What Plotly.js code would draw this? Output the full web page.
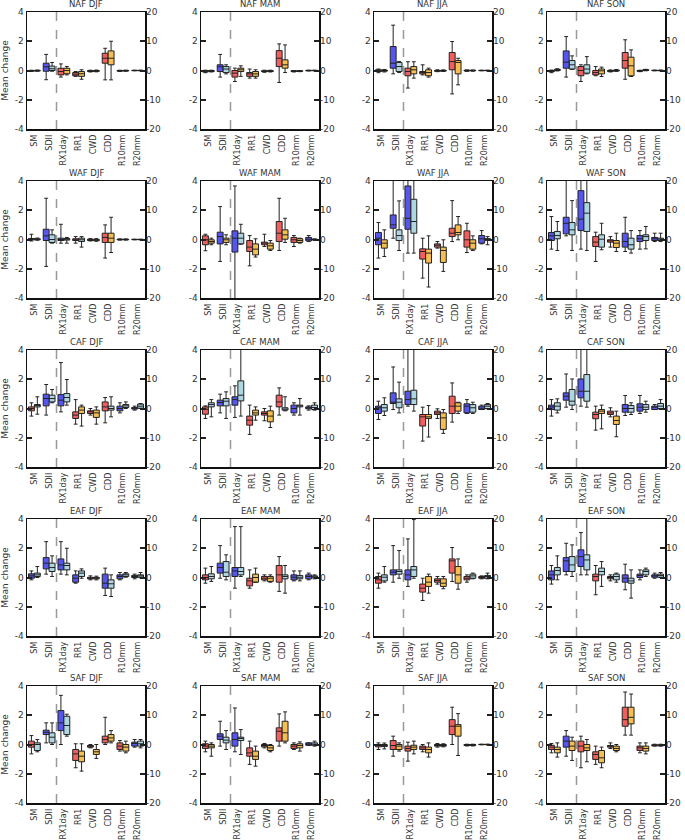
<!DOCTYPE html>
<html>
<head>
<meta charset="utf-8">
<script src="https://cdn.plot.ly/plotly-3.0.1.min.js"></script>
<style>html,body{margin:0;padding:0;background:#fff;}#chart{width:685px;height:840px;}</style>
</head>
<body>
<div id="chart"></div>
<script>
// Categories and panel names
const categories = ['SM','SDII','RX1day','RR1','CWD','CDD','R10mm','R20mm'];
const regions = ['NAF','WAF','CAF','EAF','SAF'];
const seasons = ['DJF','MAM','JJA','SON'];
const leftTicks = [-4,-2,0,2,4];
const rightTicks = [-20,-10,0,10,20];

// Each panel: 16 boxes (2 per category): [lowerWhisker, q1, median, q3, upperWhisker, colour]
// SM and SDII on left axis (-4..4), the rest on right axis (-20..20)
const NAF_DJF = [
[-0.06,-0.04,-0.02,0,0.02,'r'],[-0.05,-0.03,-0.01,0.01,0.03,'o'],
[-0.63,-0.05,0.25,0.5,1.1,'b'],[-0.05,0,0.12,0.3,0.55,'lb'],
[-2.25,-1.5,-0.35,0.75,2.25,'r'],[-1.5,-1.1,0,0.75,1.35,'o'],
[-2.0,-1.8,-1.25,-0.7,-0.35,'r'],[-3.0,-2.0,-1.1,-0.35,0.25,'o'],
[-0.5,-0.35,-0.2,-0.05,0.1,'r'],[-0.45,-0.3,-0.15,0,0.15,'o'],
[-3.2,2.5,4.2,5.9,7.6,'r'],[-3.2,1.95,4.2,6.7,10,'o'],
[-0.3,-0.2,-0.1,0,0.1,'r'],[-0.25,-0.15,-0.05,0.05,0.1,'o'],
[-0.1,-0.05,0,0.05,0.1,'r'],[-0.1,-0.05,0,0.05,0.1,'o']];
const NAF_MAM = [
[-0.15,-0.1,-0.05,0,0.02,'r'],[-0.1,-0.07,-0.03,0,0.02,'o'],
[-0.45,-0.07,0.25,0.39,1.1,'b'],[-0.23,-0.14,0.1,0.27,0.39,'lb'],
[-3.75,-2.25,-0.9,0,0.8,'r'],[-2.0,-0.35,0.25,0.8,1.6,'o'],
[-2.6,-2.0,-1.15,-0.7,0.5,'r'],[-2.6,-2.0,-1.15,-0.35,0.25,'o'],
[-0.6,-0.4,-0.25,-0.1,0.1,'r'],[-0.5,-0.35,-0.2,-0.05,0.1,'o'],
[-4.1,1.35,4.2,6.8,9.1,'r'],[-0.7,0.8,1.95,3.65,8.75,'o'],
[-0.5,-0.35,-0.25,-0.1,0,'r'],[-0.4,-0.3,-0.2,-0.1,0,'o'],
[-0.15,-0.1,0,0.05,0.1,'r'],[-0.1,-0.05,0,0.05,0.1,'o']];
const NAF_JJA = [
[-0.15,-0.07,-0.02,0.05,0.1,'b'],[-0.1,-0.05,0,0.03,0.07,'o'],
[-0.23,0.16,0.5,1.64,3.1,'b'],[-0.14,-0.07,0.27,0.55,0.62,'lb'],
[-6,-1.8,-0.35,0.8,3.0,'r'],[-2.6,-1.15,0.25,1.35,3.0,'o'],
[-1.5,-1.15,-0.7,-0.35,1.95,'r'],[-2.25,-1.8,-0.7,0.25,0.8,'o'],
[-0.4,-0.25,-0.1,0,0.25,'r'],[-0.35,-0.2,-0.05,0.05,0.2,'o'],
[-8,0.25,3.05,6.15,9.9,'r'],[-4.9,-1.15,2.75,3.4,4.2,'o'],
[-0.3,-0.15,0,0.1,0.2,'b'],[-0.25,-0.1,0,0.1,0.15,'lb'],
[-0.1,-0.05,0,0.05,0.1,'r'],[-0.1,-0.05,0,0.05,0.1,'o']];
const NAF_SON = [
[-0.15,-0.08,-0.05,0,0.03,'r'],[-0.03,0,0.05,0.08,0.12,'lb'],
[-0.45,0.16,0.57,1.34,2.32,'b'],[0.08,0.1,0.39,0.68,1.0,'lb'],
[-3.75,-1.8,0,1.35,1.95,'r'],[-1.15,-0.9,0.5,1.95,4.75,'lb'],
[-1.8,-1.5,-0.7,0,1.35,'r'],[-2.05,-1.15,-0.1,0.5,1.15,'o'],
[-0.5,-0.3,-0.15,0,0.2,'r'],[-0.3,-0.15,0,0.15,0.35,'o'],
[-3,0.8,3.4,6.15,10.5,'r'],[-2.05,-1.8,1.6,4.55,7.05,'o'],
[-0.4,-0.25,-0.15,0,0.1,'r'],[-0.1,0,0.15,0.3,0.4,'lb'],
[-0.1,-0.05,0,0.05,0.15,'r'],[-0.1,-0.05,0,0.05,0.15,'o']];
const WAF_DJF = [
[-0.1,-0.03,0.02,0.07,0.36,'b'],[-0.05,-0.02,0.02,0.05,0.1,'lb'],
[-1.84,-0.07,0.25,0.7,2.82,'b'],[-0.25,-0.2,0,0.32,0.66,'lb'],
[-1.25,-0.35,0,0.45,5.2,'b'],[-1.25,-0.2,0.1,0.35,0.7,'lb'],
[-1.25,-0.35,-0.1,0.25,1.0,'r'],[-2.6,-0.7,-0.1,0.45,1.0,'lb'],
[-0.5,-0.35,-0.1,0.1,0.3,'r'],[-0.6,-0.4,-0.15,0.05,0.3,'o'],
[-6.35,-1.0,0.7,2.15,5.0,'r'],[-4.45,-1.0,0.45,2.15,7.6,'o'],
[-0.2,-0.1,0,0.1,0.2,'b'],[-0.2,-0.1,0,0.1,0.2,'lb'],
[-0.1,-0.05,0,0.05,0.1,'b'],[-0.1,-0.05,0,0.05,0.1,'lb']];
const WAF_MAM = [
[-0.77,-0.36,-0.02,0.25,0.36,'r'],[-0.36,-0.25,-0.14,-0.02,0.09,'o'],
[-1.5,-0.3,0.2,0.5,2.25,'b'],[-0.36,-0.2,-0.02,0.09,0.32,'o'],
[-25,-4.3,0.45,2.95,18.3,'b'],[-1.6,-1.5,0.45,2.15,5.2,'lb'],
[-9,-4.1,-2.6,-0.35,1.35,'r'],[-6,-5.25,-3.3,-1.5,0.25,'o'],
[-2.4,-1.8,-1.25,-0.9,1.8,'r'],[-3.75,-3.3,-2.15,-1.25,-0.35,'o'],
[-3.75,-0.7,2.15,6.15,14.1,'r'],[-1.0,0.1,1.6,3.3,7.25,'o'],
[-2.4,-1.0,-0.1,0.7,1.35,'r'],[-1.25,-1.0,-0.35,0.25,0.45,'o'],
[-0.7,-0.45,0.1,0.7,1.35,'b'],[-0.3,-0.1,0,0.1,0.2,'lb']];
const WAF_JJA = [
[-1.27,-0.36,0.09,0.48,1.16,'b'],[-1.16,-0.59,-0.25,-0.02,0.66,'o'],
[0.09,0.77,1.0,1.68,4.6,'b'],[-0.75,-0.07,0.27,0.66,2.64,'lb'],
[-4.65,3.5,7.25,18.3,25,'b'],[-4.65,2.15,6.15,13.75,25,'lb'],
[-13.2,-6.7,-4.1,-3.2,0.45,'r'],[-16.25,-8.05,-4.65,-3.3,1.25,'o'],
[-2.95,-2.6,-1.95,-1.5,-0.7,'r'],[-10.9,-7.85,-3.75,-2.6,-0.1,'o'],
[-0.7,1.0,2.15,3.85,13.3,'r'],[-0.1,1.6,2.4,5,7.85,'o'],
[-4.45,-2.6,-0.1,2.95,5.55,'r'],[-3.75,-3.3,-1.25,-0.1,1.25,'o'],
[-1.5,-1.25,0.25,1.35,3.05,'b'],[-1.8,-0.3,0,0.3,1.0,'lb']];
const WAF_SON = [
[-0.66,-0.07,0.25,0.48,1.57,'b'],[-0.75,0.05,0.27,0.55,1.23,'lb'],
[0.25,0.39,1.11,1.52,4.5,'b'],[-0.75,0.32,0.66,1.16,2.66,'lb'],
[-3.3,3.05,6.95,16.7,25,'b'],[-3.75,2.75,9,12.6,25,'lb'],
[-7.5,-2.4,-0.9,1.0,2.5,'r'],[-3.5,-2.6,0.1,1.6,5.55,'lb'],
[-2.6,-0.9,-0.45,-0.1,1.0,'r'],[-4.1,-2.75,-1.25,-0.35,2.15,'o'],
[-4.1,-2.6,-0.7,2.15,7.6,'b'],[-4.65,-3.3,-1.8,0.45,3.05,'lb'],
[-3.3,-0.7,0.25,1.35,3.05,'b'],[-3.2,-0.35,1.0,1.6,4.45,'lb'],
[-0.7,-0.35,0.25,0.7,2.15,'b'],[-0.7,-0.35,0.1,0.45,2.15,'lb']];
const CAF_DJF = [
[-0.52,-0.16,0,0.11,0.39,'r'],[-0.39,0.11,0.2,0.27,0.8,'lb'],
[-0.45,0.18,0.68,0.98,1.64,'b'],[0.39,0.45,0.68,0.91,1.3,'lb'],
[-1.15,0.9,2.85,4.75,15.7,'b'],[1.15,2.25,3.75,5.1,9.9,'lb'],
[-5.35,-3.4,-2.25,-1.15,3.05,'r'],[-6,-1.7,-0.55,0.55,1.15,'o'],
[-2.25,-1.7,-1.15,-0.8,0,'r'],[-5.35,-3.05,-1.5,-0.55,0.55,'o'],
[-4.9,-0.8,0.55,2.25,3.75,'r'],[-2.85,-0.55,0,0.8,4.0,'lb'],
[-1.5,-0.8,0,0.8,1.95,'b'],[0,0.35,0.9,1.35,2.25,'lb'],
[-0.55,-0.2,0.1,0.3,0.8,'b'],[0,0.1,0.8,1.5,1.7,'lb']];
const CAF_MAM = [
[-0.68,-0.39,-0.05,0.11,0.18,'r'],[-0.57,0.11,0.27,0.39,0.61,'lb'],
[-0.3,0.18,0.41,0.57,0.98,'b'],[-0.68,0.18,0.5,0.68,1.14,'lb'],
[-3.05,1.15,3.05,4.0,7.75,'b'],[-2.6,2.6,4.55,9.45,25,'lb'],
[-8.85,-5.7,-4.0,-2.6,1.15,'r'],[-4.0,-2.25,-1.5,-0.55,0.55,'o'],
[-4.2,-2.25,-1.7,-1.15,0,'r'],[-6.5,-4.55,-2.6,-0.8,0.8,'o'],
[-2.25,0.55,2.25,4.55,7.05,'r'],[-0.8,-0.55,-0.2,0.25,4.0,'lb'],
[-2.25,-1.5,0,1.15,1.95,'b'],[-2.25,0.55,0.9,1.15,3.4,'lb'],
[-0.55,-0.1,0.25,0.55,0.9,'b'],[-0.55,-0.35,0.35,1.15,1.95,'lb']];
const CAF_JJA = [
[-0.75,-0.34,0.05,0.16,0.5,'b'],[-0.48,-0.18,0.05,0.27,0.73,'lb'],
[-0.07,0.34,0.43,1.07,2.84,'b'],[-0.3,0.05,0.43,0.66,1.8,'lb'],
[0.8,1.35,3.05,5.9,25,'b'],[-0.9,1.35,3.3,6.25,25,'lb'],
[-11.15,-6.0,-2.85,-2.05,0.45,'r'],[-9.75,-3.4,-2.85,-2.05,1.0,'o'],
[-3.4,-2.05,-1.5,-0.9,-0.1,'r'],[-8.5,-7.15,-3.2,-1.5,-0.35,'o'],
[-4.65,-1.7,0.8,4.2,8.75,'r'],[-1.7,-0.9,0.8,1.95,2.15,'o'],
[-1.7,-1.5,0.8,1.6,3.05,'b'],[-1.7,-1.25,0.25,1.35,2.15,'lb'],
[-0.35,-0.35,0.1,0.8,1.15,'b'],[-0.1,0,0.8,1.35,1.7,'lb']];
const CAF_SON = [
[-0.52,-0.07,0.11,0.23,0.61,'b'],[-0.3,-0.11,0.16,0.39,0.66,'lb'],
[0.09,0.57,0.84,1.07,2.36,'b'],[-0.07,0.23,0.5,1.3,2.02,'lb'],
[0.8,3.65,5.9,10.1,25,'b'],[0.45,2.5,5.9,11.6,25,'lb'],
[-7.4,-3.5,-2.05,-1.25,0.8,'r'],[-6.95,-1.7,-0.9,-0.35,1.15,'o'],
[-2.85,-2.05,-1.5,-0.9,0.25,'r'],[-9.65,-5.45,-4.1,-2.6,-0.9,'o'],
[-2.4,-1.25,0,1.35,4.45,'b'],[-2.05,-1.25,0,1.0,1.95,'lb'],
[-1.7,-0.9,0.45,1.6,4.45,'b'],[-1.25,-0.35,0.45,1.35,2.5,'lb'],
[-0.35,-0.35,0.45,0.8,1.35,'b'],[-0.35,0,0.8,1.7,3.05,'lb']];
const EAF_DJF = [
[-0.16,-0.05,0.11,0.25,0.45,'b'],[0,0.07,0.18,0.3,0.75,'lb'],
[0.23,0.59,0.98,1.36,2.45,'b'],[0.07,0.41,0.68,0.98,1.48,'lb'],
[1.15,2.6,4.3,6.35,12.25,'b'],[0.9,2.6,4.1,4.9,10,'lb'],
[-1.95,-1.6,-0.25,0.9,2.25,'b'],[-0.25,0.35,1.5,2.25,2.95,'lb'],
[-0.8,-0.45,-0.25,0.05,0.55,'r'],[-0.8,-0.45,-0.2,0.05,0.45,'o'],
[-6.15,-3.65,-1.95,1.15,3.2,'b'],[-6.5,-3.65,-2.15,-0.8,0.9,'lb'],
[-0.8,-0.45,0.35,0.9,1.7,'b'],[0.1,0.35,0.9,1.25,1.7,'lb'],
[-0.45,0,0.35,0.7,1.15,'b'],[-0.1,0.1,0.55,0.9,1.7,'lb']];
const EAF_MAM = [
[-0.39,-0.16,0,0.18,0.64,'r'],[-0.27,-0.09,0.07,0.25,0.75,'lb'],
[-0.05,0.3,0.68,0.98,2.18,'b'],[-0.16,0.07,0.36,1.09,1.55,'lb'],
[-3.65,0.35,2.25,3.4,17.4,'b'],[0.35,0.9,2.05,3.4,17.4,'lb'],
[-3.65,-2.85,-1.15,-0.25,2.6,'r'],[-1.6,-1.6,0,1.15,3.2,'o'],
[-1.15,-0.8,-0.25,0.35,0.9,'r'],[-1.6,-1.35,-0.25,0.35,0.9,'o'],
[-4.75,-1.6,0.9,4.1,7.15,'r'],[-5.35,-0.45,0.35,0.9,4.1,'lb'],
[-1.15,-0.8,0.1,0.9,2.25,'b'],[-1.15,-0.45,0.1,0.7,2.25,'lb'],
[-0.8,-0.45,0.35,0.9,1.5,'b'],[-0.45,-0.1,0.25,0.55,0.9,'lb']];
const EAF_JJA = [
[-0.73,-0.39,-0.16,0.07,0.3,'r'],[-0.32,-0.23,0.02,0.18,0.75,'lb'],
[-0.32,0.18,0.36,0.52,2.18,'b'],[-0.05,0.23,0.41,0.52,1.84,'lb'],
[-3.05,-0.8,0.9,2.6,13.2,'b'],[-0.25,0.35,2.6,3.75,19.8,'lb'],
[-7.85,-5.0,-3.65,-2.25,-0.25,'r'],[-5.35,-3.05,-1.6,0.35,1.15,'o'],
[-2.25,-1.6,-1.0,-0.45,0.35,'r'],[-3.85,-3.05,-1.95,-0.45,0.35,'o'],
[-1.35,1.5,5.7,6.35,10.25,'r'],[-4.0,-1.95,0.9,3.75,6.35,'o'],
[-1.6,-0.8,-0.25,0.35,0.9,'r'],[-0.45,-0.25,0.55,1.15,1.5,'lb'],
[-0.45,-0.25,0,0.35,0.55,'r'],[-0.45,-0.25,0.35,0.7,1.5,'lb']];
const EAF_SON = [
[-0.45,-0.16,0.18,0.45,0.82,'b'],[-0.16,0.18,0.48,0.68,1.48,'lb'],
[0.18,0.41,1.14,1.36,2.34,'b'],[0.07,0.41,0.86,1.43,2.23,'lb'],
[0.9,3.75,7.15,9.45,15.35,'b'],[0.9,2.6,6.0,7.75,25,'lb'],
[-5.9,-1.15,0.35,1.15,4.1,'r'],[-3.05,0.9,2.05,3.2,5.45,'lb'],
[-1.15,-0.45,0,0.35,0.9,'r'],[-1.6,-0.8,0.35,1.15,1.5,'lb'],
[-4.2,-1.6,-0.25,0.9,4.55,'b'],[-7.05,-1.95,-1.15,-0.25,2.6,'lb'],
[-0.8,0,0.7,1.15,2.6,'b'],[0.35,0.9,2.05,2.6,3.2,'lb'],
[-0.25,0.1,0.55,0.9,1.5,'b'],[0,0.1,0.7,1.15,1.7,'lb']];
const SAF_DJF = [
[-0.64,-0.18,0,0.23,0.61,'r'],[-0.5,-0.41,0,0.11,0.34,'lb'],
[0.11,0.68,0.84,0.98,1.48,'b'],[0,0.11,0.5,0.8,1.48,'lb'],
[0,4.75,7.4,11.6,16.8,'b'],[2.85,3.4,6.5,9.65,10.35,'lb'],
[-7.95,-5.45,-3.2,-1.7,0.25,'r'],[-9.1,-5.9,-4.0,-2.25,0.25,'o'],
[-1.15,-0.9,-0.55,-0.35,0,'r'],[-4.75,-3.4,-2.5,-1.7,0,'o'],
[0,0.55,1.7,2.85,9.3,'r'],[0.55,1.15,2.25,3.4,4.75,'o'],
[-2.25,-1.7,-0.55,0.55,1.35,'r'],[-2.85,-2.25,-0.9,0,1.15,'o'],
[-0.9,-0.55,0.35,0.8,1.7,'b'],[-1.15,-0.55,0.25,1.15,1.7,'lb']];
const SAF_MAM = [
[-0.5,-0.27,-0.11,0.05,0.23,'r'],[-0.8,-0.23,-0.11,0,0.11,'o'],
[-0.11,0.34,0.57,0.73,1.59,'b'],[-0.34,0.11,0.3,0.5,0.95,'lb'],
[-2.5,-0.55,1.7,4.0,12.5,'b'],[-3.4,1.35,2.05,2.5,5.1,'lb'],
[-6.8,-4.0,-2.85,-1.15,1.15,'r'],[-7.4,-5.1,-4.0,-2.25,-0.55,'o'],
[-1.15,-0.8,-0.35,0,0.35,'r'],[-2.5,-2.05,-1.15,-0.35,0,'o'],
[-0.55,1.15,4.55,5.7,10.45,'r'],[0.55,1.15,4.0,7.95,11.15,'o'],
[-1.7,-1.35,-0.55,0,0.55,'r'],[-2.25,-1.15,-0.35,0.25,0.9,'o'],
[-0.35,-0.25,0,0.55,0.55,'b'],[-0.55,-0.25,0,0.55,1.15,'lb']];
const SAF_JJA = [
[-0.34,-0.16,-0.07,0,0.11,'r'],[-0.3,-0.14,-0.07,0,0.1,'o'],
[-0.8,-0.34,-0.07,0.27,0.57,'r'],[-0.45,-0.34,-0.11,0,0.11,'o'],
[-5.7,-2.25,-1.35,-0.55,0.8,'r'],[-3.2,-1.7,-0.9,-0.25,1.15,'o'],
[-2.5,-1.7,-1.15,-0.55,0,'r'],[-4.3,-2.85,-1.7,-0.9,0.55,'o'],
[-0.9,-0.55,-0.35,0,0.35,'r'],[-0.8,-0.55,-0.35,0,0.25,'o'],
[0,3.4,6.25,8.5,12.75,'r'],[-3.75,2.85,6.25,6.8,10.55,'o'],
[-0.5,-0.35,-0.2,0,0.1,'r'],[-0.5,-0.35,-0.2,0,0.1,'o'],
[-0.1,-0.05,0,0.05,0.1,'r'],[-0.1,-0.05,0,0.05,0.1,'o']];
const SAF_SON = [
[-0.57,-0.34,-0.18,-0.05,0.07,'r'],[-0.86,-0.57,-0.34,-0.18,0.11,'o'],
[-0.8,-0.18,0.23,0.57,0.95,'b'],[-1.09,-0.41,-0.11,0.23,0.5,'o'],
[-7.95,-2.5,-0.55,1.15,2.85,'r'],[-5.9,-2.05,-1.15,0,1.7,'o'],
[-6.8,-5.1,-3.4,-2.5,-0.55,'r'],[-7.95,-6.25,-4.55,-2.05,-0.9,'o'],
[-1.35,-0.9,-0.55,-0.35,0.55,'r'],[-2.5,-2.05,-1.35,-0.55,0,'o'],
[3.2,6.25,8.5,12.75,17.95,'r'],[3.2,7.05,9.3,12.75,17.25,'o'],
[-2.85,-2.05,-1.15,-0.55,0.55,'r'],[-3.2,-2.25,-1.35,-0.55,0.55,'o'],
[-0.55,-0.45,-0.25,-0.1,0.1,'r'],[-0.55,-0.45,-0.25,-0.1,0.1,'o']];

const panels = [
  NAF_DJF, NAF_MAM, NAF_JJA, NAF_SON,
  WAF_DJF, WAF_MAM, WAF_JJA, WAF_SON,
  CAF_DJF, CAF_MAM, CAF_JJA, CAF_SON,
  EAF_DJF, EAF_MAM, EAF_JJA, EAF_SON,
  SAF_DJF, SAF_MAM, SAF_JJA, SAF_SON
];

const fills = {b:'rgba(72,72,238,0.92)', lb:'rgba(170,212,224,0.95)', r:'rgba(240,80,80,0.92)', o:'rgba(246,186,72,0.95)'};

// layout geometry (pixels)
const W = 685, H = 840;
const colLeft = [27, 201, 374, 547];
const rowTop = [12, 181, 350, 519, 686];
const pw = 118, ph = 117;

const FONT = 'DejaVu Sans, sans-serif';
const data = [];
const layout = {
  width: W, height: H,
  margin: {l:0, r:0, t:0, b:0},
  paper_bgcolor: '#fff', plot_bgcolor: '#fff',
  showlegend: false, boxmode: 'overlay',
  font: {family: FONT, size: 9, color: '#333'},
  annotations: [], shapes: []
};

for (let r = 0; r < 5; r++) {
  for (let c = 0; c < 4; c++) {
    const p = r * 4 + c;
    const xn = p + 1, yl = 2 * p + 1, yr = 2 * p + 2;
    const xName = xn === 1 ? 'xaxis' : 'xaxis' + xn;
    const xRef = xn === 1 ? 'x' : 'x' + xn;
    const ylName = yl === 1 ? 'yaxis' : 'yaxis' + yl;
    const ylRef = yl === 1 ? 'y' : 'y' + yl;
    const yrName = 'yaxis' + yr;
    const yrRef = 'y' + yr;
    const x0 = colLeft[c] / W, x1 = (colLeft[c] + pw) / W;
    const yTop = 1 - rowTop[r] / H, yBot = 1 - (rowTop[r] + ph) / H;

    layout[xName] = {
      domain: [x0, x1], anchor: ylRef, range: [-0.5, 7.5],
      tickmode: 'array', tickvals: categories.map((_, i) => i), ticktext: categories,
      tickangle: -90, ticks: '', ticklabelstandoff: 1, showgrid: false, zeroline: false,
      showline: true, mirror: true, linecolor: '#111', linewidth: 1.5,
      tickfont: {size: 8, color: '#333', family: FONT}, fixedrange: true
    };
    layout[ylName] = {
      domain: [yBot, yTop], anchor: xRef, range: [-4, 4],
      tickmode: 'array', tickvals: leftTicks, ticktext: leftTicks.map(String),
      ticks: 'inside', ticklen: 5, tickwidth: 2, tickcolor: '#222',
      showgrid: false, zeroline: false, showline: true, mirror: true,
      linecolor: '#111', linewidth: 1.5,
      tickfont: {size: 9, color: '#333', family: FONT}, fixedrange: true
    };
    if (c === 0) {
      layout[ylName].title = {text: 'Mean change', font: {size: 9, color: '#333', family: FONT}, standoff: 4};
    }
    layout[yrName] = {
      overlaying: ylRef, anchor: xRef, side: 'right', range: [-20, 20],
      tickmode: 'array', tickvals: rightTicks, ticktext: rightTicks.map(String),
      ticks: 'inside', ticklen: 5, tickwidth: 2, tickcolor: '#222',
      showgrid: false, zeroline: false, showline: false,
      tickfont: {size: 9, color: '#333', family: FONT}, fixedrange: true
    };

    layout.annotations.push({
      text: regions[r] + ' ' + seasons[c], xref: 'paper', yref: 'paper',
      x: (x0 + x1) / 2, y: yTop + 8 / H, xanchor: 'center', yanchor: 'middle',
      showarrow: false, font: {size: 8.5, color: '#333', family: FONT}
    });

    layout.shapes.push({
      type: 'line', xref: xRef, yref: ylRef + ' domain', x0: 1.5, x1: 1.5, y0: 0, y1: 1,
      line: {color: '#999', width: 1.5, dash: 'dash'}, layer: 'below'
    });

    // group boxes by colour and axis
    const groups = {};
    panels[p].forEach((b, j) => {
      const ci = Math.floor(j / 2);
      const pos = ci + (j % 2 === 0 ? -0.2 : 0.2);
      const ax = ci < 2 ? ylRef : yrRef;
      const key = b[5] + '|' + ax;
      if (!groups[key]) groups[key] = {col: b[5], ax: ax, x: [], lo: [], q1: [], med: [], q3: [], hi: []};
      const g = groups[key];
      g.x.push(pos); g.lo.push(b[0]); g.q1.push(b[1]); g.med.push(b[2]); g.q3.push(b[3]); g.hi.push(b[4]);
    });
    Object.values(groups).forEach(g => {
      data.push({
        type: 'box', xaxis: xRef, yaxis: g.ax,
        x: g.x, q1: g.q1, median: g.med, q3: g.q3, lowerfence: g.lo, upperfence: g.hi,
        width: 0.4, whiskerwidth: 0.65, boxpoints: false,
        fillcolor: fills[g.col], line: {color: '#222', width: 1},
        hoverinfo: 'skip', showlegend: false
      });
    });
  }
}

Plotly.newPlot('chart', data, layout, {staticPlot: true, displayModeBar: false});
</script>
</body>
</html>
